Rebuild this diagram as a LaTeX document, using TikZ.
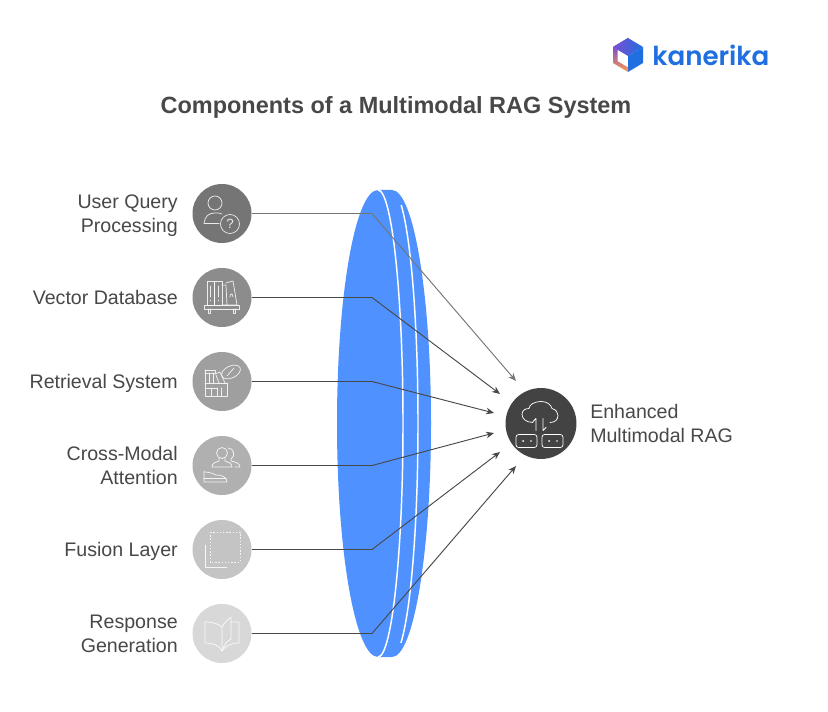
\documentclass[tikz,border=0pt]{standalone}
\usepackage{fontspec}
\setmainfont{Liberation Sans}
\newfontfamily\logofont{Poppins SemiBold}
\usetikzlibrary{arrows.meta}
\definecolor{lensblue}{HTML}{4F92FF}
\definecolor{txt}{HTML}{484848}
\definecolor{ca}{HTML}{757575}
\definecolor{cb}{HTML}{8C8C8C}
\definecolor{cc}{HTML}{9F9F9F}
\definecolor{cd}{HTML}{B0B0B0}
\definecolor{ce}{HTML}{C4C4C4}
\definecolor{cf}{HTML}{D8D8D8}
\definecolor{cg}{HTML}{434343}
\definecolor{logoblue}{HTML}{1F6FE0}
\definecolor{logopurple}{HTML}{7A4FD0}
\definecolor{logopink}{HTML}{E0508A}
\definecolor{logoorange}{HTML}{FF9A4A}
\tikzset{
  x=0.75pt,y=-0.75pt,
  dot/.style={circle,minimum size=44.25pt,inner sep=0pt,draw=none},
  lab/.style={font=\fontsize{14.7pt}{18pt}\selectfont,text=txt,align=right,anchor=east,inner sep=0pt,yshift=-2.2pt},
  labl/.style={font=\fontsize{14.7pt}{18pt}\selectfont,text=txt,align=left,anchor=west,inner sep=0pt,yshift=-2.2pt},
  conn/.style={line width=0.7pt,-{Stealth[length=6pt,width=5pt]}},
  ic/.style={draw=white,line width=0.55pt,opacity=0.85,line join=round,line cap=round,fill=none},
}
\begin{document}
\begin{tikzpicture}
\useasboundingbox (0,0) rectangle (828,712);
\fill[white] (0,0) rectangle (828,712);
% lens
\fill[lensblue] (378,190) .. controls (355.4,190) and (337,294.5) .. (337,423.5) .. controls (337,552.5) and (355.4,657) .. (378,657)
  -- (392,657) .. controls (413.5,657) and (431,552.5) .. (431,423.5) .. controls (431,294.5) and (413.5,190) .. (392,190) -- cycle;
\draw[white,line width=1.1pt] (378,190) .. controls (391.8,190) and (403,294.5) .. (403,423.5) .. controls (403,552.5) and (391.8,657) .. (378,657);
\begin{scope}
\clip (380,206) rectangle (440,642);
\draw[white,line width=1.1pt] (392,190) .. controls (406.4,190) and (418,294.5) .. (418,423.5) .. controls (418,552.5) and (406.4,657) .. (392,657);
\end{scope}
% nodes
\node[dot,fill=ca] (a) at (222,213.5) {};
\node[dot,fill=cb] (b) at (222,297.5) {};
\node[dot,fill=cc] (c) at (222,381.5) {};
\node[dot,fill=cd] (d) at (222,465.5) {};
\node[dot,fill=ce] (e) at (222,549.5) {};
\node[dot,fill=cf] (f) at (222,633.5) {};
\node[dot,fill=cg,minimum size=53.2pt] (g) at (541,423.5) {};
% labels
\node[lab] (la) at (178,213) {\strut User Query\\\strut Processing};
\node[lab] (lb) at (178,297) {\strut Vector Database};
\node[lab] (lc) at (178,381) {\strut Retrieval System};
\node[lab] (ld) at (178,465) {\strut Cross-Modal\\\strut Attention};
\node[lab] (le) at (178,549) {\strut Fusion Layer};
\node[lab] (lf) at (178,633) {\strut Response\\\strut Generation};
\node[labl] (lg) at (590,423) {\strut Enhanced\\\strut Multimodal RAG};
\node[font=\bfseries\fontsize{17.6pt}{20pt}\selectfont,text=txt,inner sep=0pt] (title) at (396,107) {Components of a Multimodal RAG System};
% connectors
\coordinate (ka) at (372,213.5);\coordinate (kb) at (372,297.5);\coordinate (kc) at (372,381.5);
\coordinate (kd) at (372,465.5);\coordinate (ke) at (372,549.5);\coordinate (kf) at (372,633.5);
\coordinate (ta) at (516,381);\coordinate (tb) at (500,394);\coordinate (tc) at (494,413);
\coordinate (td) at (494,433);\coordinate (te) at (500,452);\coordinate (tf) at (516,466);
\draw[conn,color=ca] (a.east) -- (ka) -- (ta);
\draw[conn,color=txt] (b.east) -- (kb) -- (tb);
\draw[conn,color=txt] (c.east) -- (kc) -- (tc);
\draw[conn,color=txt] (d.east) -- (kd) -- (td);
\draw[conn,color=txt] (e.east) -- (ke) -- (te);
\draw[conn,color=txt] (f.east) -- (kf) -- (tf);
% icon a: user with question
\begin{scope}[shift={(222,213)}]
\draw[ic] (-7,-10) circle (7);
\draw[ic] (-18,10) .. controls (-17,3) and (-13,0) .. (-7,0) .. controls (-4,0) and (-2,0) .. (0,1);
\draw[ic] (-18,10) -- (-3,10);
\draw[ic] (8,11) circle (9.5);
\node[text=white,font=\fontsize{10pt}{10pt}\selectfont,inner sep=0pt,opacity=.85] (qm) at (8,11) {?};
\end{scope}
% icon b: books on shelf
\begin{scope}[shift={(222,297)}]
\draw[ic] (-15,-16) rectangle (-8,8);
\draw[ic] (-8,-16) rectangle (0,8);
\draw[ic] (0,-12) -- (4,-12) -- (5,8) -- (0,8);
\draw[ic] (4,-14) -- (11,-16) -- (15,8) -- (5,8);
\draw[ic] (-18,8) rectangle (17,12);
\draw[ic] (-14,12) -- (-14,16) -- (-12,16) -- (-12,12) (11,12) -- (11,16) -- (13,16) -- (13,12);
\draw[ic] (-11.5,-11) -- (-11.5,0) (-11.5,3) -- (-11.5,4) (-4,-11) -- (-4,0) (-4,3) -- (-4,4);
\draw[ic] (8,0) .. controls (8,-4) and (11,-4) .. (11,0);
\end{scope}
% icon c: shelf and pill
\begin{scope}[shift={(222,381)}]
\draw[ic] (-17,-11) -- (-17,15) -- (5,15) -- (5,2);
\draw[ic] (-17,-11) -- (-7,-11) -- (-7,-8);
\draw[ic] (-17,2) -- (5,2);
\draw[ic] (-13,-8) -- (-13,2) (-9,-8) -- (-9,2) (-17,-8) -- (-7,-8);
\draw[ic] (-7,-7) -- (-2,-9) -- (3,2) (-6,-6) -- (-3,2);
\draw[ic] (-17,7) -- (-5,7) (-11,7) -- (-11,15) (-5,7) -- (-5,15) (-1,7) -- (-1,15);
\draw[ic,rotate around={25:(9,-9)}] (9,-9) ellipse (10 and 6);
\draw[ic] (5,-5) -- (12,-13);
\end{scope}
% icon d: people and hand
\begin{scope}[shift={(222,465)}]
\draw[ic] (0,-12) circle (5.5);
\draw[ic] (-3,-7) -- (-3,-4) .. controls (-6,-3) and (-10,-2) .. (-10,2) -- (10,2) .. controls (10,-2) and (6,-3) .. (3,-4) -- (3,-7);
\draw[ic] (6,-17) .. controls (12,-17) and (14,-9) .. (9,-6) -- (9,-4) .. controls (13,-3) and (18,-2) .. (18,2) -- (13,2);
\draw[ic] (-18,6) -- (-18,17) -- (5,17) .. controls (5,12) and (0,10) .. (-6,10) .. controls (-10,8) and (-14,7) .. (-18,7);
\draw[ic] (-18,13) -- (4,13);
\end{scope}
% icon e: dotted square with L
\begin{scope}[shift={(222,549)}]
\draw[draw=white,opacity=.85,line width=0.7pt,dash pattern=on 1pt off 1.4pt] (-12,-17) rectangle (18,13);
\draw[ic] (-17,-4) -- (-17,18) -- (5,18);
\end{scope}
% icon f: open book
\begin{scope}[shift={(222,633)}]
\draw[ic] (-17,-11) -- (-17,10) .. controls (-9,10) and (-3,12) .. (0,18) .. controls (3,13) and (9,10) .. (17,10) -- (17,-11) -- (9,-11);
\draw[ic] (0,18) -- (0,-6) .. controls (-3,-9) and (-9,-11) .. (-17,-11);
\draw[ic] (0,-6) .. controls (2,-10) and (5,-13) .. (9,-16) -- (9,6) .. controls (5,8) and (2,12) .. (0,18);
\end{scope}
% icon g: cloud and servers
\begin{scope}[shift={(541,423.5)}]
\draw[ic,opacity=1] (-8,-1) .. controls (-15,-1) and (-19,-5) .. (-19,-9) .. controls (-19,-13) and (-16,-15) .. (-12,-15) .. controls (-12,-19) and (-6,-22) .. (0,-22) .. controls (6,-22) and (10,-19) .. (11,-15) .. controls (15,-14) and (17,-11) .. (17,-8) .. controls (17,-4) and (14,-1) .. (9,-1);
\draw[ic,opacity=1] (-5,7) -- (-5,-5) -- (-8,-2);
\draw[ic,opacity=1] (2,-5) -- (2,7) -- (5,4);
\draw[ic,rounded corners=2pt,opacity=1] (-25,11) rectangle (-4,24);
\draw[ic,rounded corners=2pt,opacity=1] (1,11) rectangle (22,24);
\fill[white] (-18,17.5) circle (1) (-10,17.5) circle (.8) (8,17.5) circle (1) (16,17.5) circle (.8);
\end{scope}
% logo
\shade[top color=logopurple,bottom color=logopink] (613,47) -- (628,38) -- (628,55) -- cycle;
\shade[left color=logopurple,right color=logoblue] (628,38) -- (643,47) -- (628,56) -- (613,47) -- cycle;
\fill[logoblue] (628,56) -- (643,47) -- (643,63) -- (628,72) -- cycle;
\shade[top color=logopurple,bottom color=logoorange] (613,47) -- (618,50) -- (618,61) -- (628,67) -- (628,72) -- (613,63) -- cycle;
\fill[white] (617.5,50.5) -- (627.5,56.5) -- (627.5,67) -- (617.5,61) -- cycle;
\node[font=\logofont\fontsize{19.6pt}{20pt}\selectfont,text=logoblue,anchor=west,inner sep=0pt] (logo) at (652,55) {kanerika};
\end{tikzpicture}
\end{document}
